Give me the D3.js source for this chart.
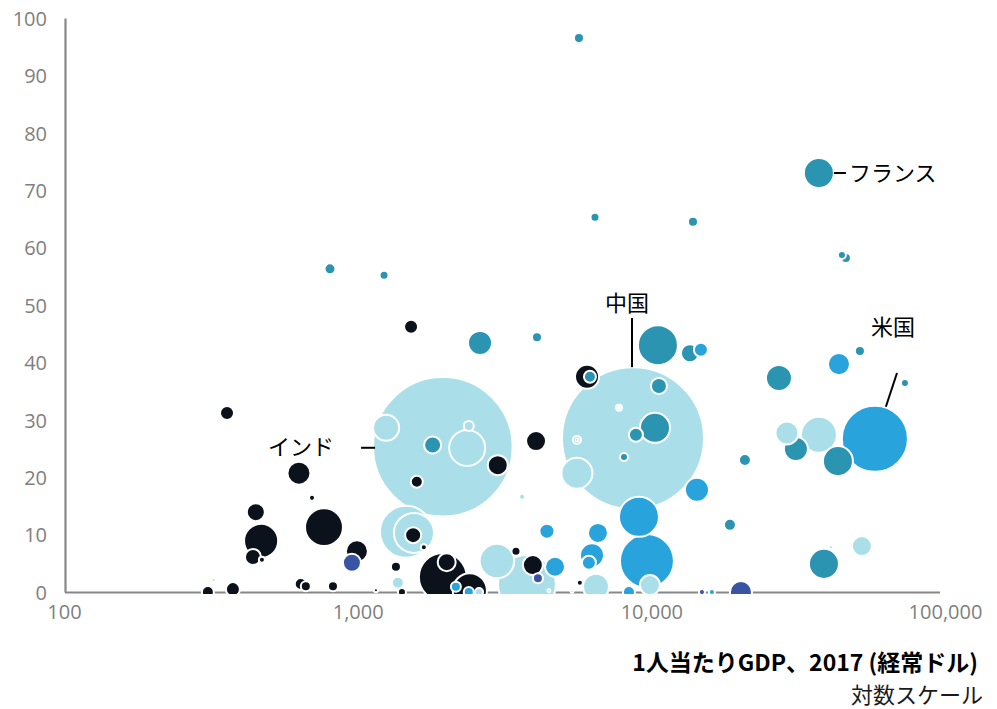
<!DOCTYPE html>
<html>
<head>
<meta charset="utf-8">
<script src="https://cdn.jsdelivr.net/npm/d3@7"></script>
<style>
  html, body { margin: 0; padding: 0; background: #ffffff; }
  svg { display: block; }
  .tick text { font-family: "Open Sans", "Noto Sans", sans-serif; font-size: 20px; fill: #7f7f7f; }
  .lbl { font-family: "Noto Sans CJK JP", sans-serif; font-size: 22px; fill: #000; }
</style>
</head>
<body>
<svg id="chart" width="997" height="709"></svg>
<script>
// GDP per capita (current US$), value on the vertical axis, population (millions), region group
const gdpPerCapita = [
  8660, 1950, 57700, 37200,
  5670, 6430, 13860, 805, 1230, 44560, 45970, 1520, 2610, 4080, 10530, 13530, 14750,
  27200, 43540, 51320, 73040, 28950, 37210, 31070, 43190, 20830, 18520, 38700, 52120, 40880,
  20190, 14870, 16080,
  6040, 6180, 10615, 7760, 7760, 10290, 8860, 5580, 5580, 8070, 5580, 14300, 9075, 9660,
  9890, 8390, 6580, 6280, 6130, 4700, 4410, 6480, 5710,
  1250, 1800, 2360, 2390, 3000, 1590, 4050, 3630, 1460, 1555, 1545, 1680, 1350, 1370, 1415,
  1950, 2010, 2410, 2160, 2390, 2590, 2980, 3460, 3770, 3950, 4110, 4480, 5370,
  359, 631, 699, 768, 450, 469, 440, 472, 994, 956, 309, 376, 324, 640, 666, 824, 1154
];
const shareValue = [
  26.8, 25.3, 26.7, 73.0,
  96.5, 65.3, 64.5, 56.3, 55.2, 58.7, 58.2, 46.2, 43.4, 44.4, 43.0, 41.6, 42.2,
  37.3, 39.7, 42.0, 36.4, 27.7, 27.4, 24.9, 22.8, 23.0, 11.7, 4.9, 8.0, 7.8,
  0, 0, 0,
  37.5, 37.5, 35.9, 32.1, 32.1, 28.6, 27.4, 26.5, 26.5, 23.5, 20.7, 17.8, 13.1, 5.4,
  1.2, 0, 10.3, 6.4, 5.1, 4.4, 10.6, 0.9, 1.6,
  28.6, 25.6, 25.1, 28.9, 22.1, 19.2, 26.3, 16.6, 10.5, 10.3, 9.9, 7.8, 4.4, 1.6, 0,
  2.6, 5.2, 0.3, 0.9, 0, 0, 5.4, 7.1, 1.4, 4.7, 2.4, 0.2, 0.1,
  31.2, 20.7, 16.4, 11.3, 13.9, 8.9, 6.1, 5.6, 7.1, 5.1, 0, 0.5, 2.1, 1.4, 1.0, 1.0, 0.3
];
const population = [
  1386, 1339, 300, 62,
  7, 5.6, 7, 8.3, 5.6, 4.4, 6.9, 13.5, 39.6, 6.9, 110, 22.3, 13.5,
  46.5, 33.3, 6.9, 4.4, 36.4, 89, 39.6, 62, 9.9, 9.9, 62, 27.5, 1.1,
  33.3, 2.5, 2.5,
  39.6, 9.9, 17.6, 2.5, 0.3, 62, 13.5, 4.4, 0.6, 4.4, 66, 39.6, 110, 200,
  27.5, 9.9, 27.5, 39.6, 13.5, 27.5, 15.5, 46.5, 2.5,
  46.5, 19.9, 89, 6.9, 27.5, 9.9, 27.5, 2.5, 186, 110, 17.6, 2.5, 6.9, 9.9, 4.4,
  158, 22.3, 80, 6.9, 6.9, 4.4, 82, 5.6, 231, 27.5, 6.9, 0.6, 0.6,
  13.5, 36.4, 2.5, 99, 22.3, 80, 17.6, 2.5, 33.3, 22.3, 9.9, 13.5, 0.6, 9.9, 6.9, 6.9, 1.1
];
const region = [
  "asia", "asia", "americas", "europe",
  "europe", "europe", "europe", "europe", "europe", "europe", "europe", "africa", "europe", "europe", "europe", "europe", "americas",
  "europe", "americas", "europe", "europe", "asia", "asia", "europe", "europe", "europe", "europe", "europe", "asia", "asia",
  "oceania", "oceania", "americas",
  "africa", "europe", "europe", "asia", "africa", "europe", "europe", "asia", "africa", "europe", "asia", "americas", "americas", "americas",
  "asia", "americas", "americas", "americas", "americas", "americas", "americas", "asia", "africa",
  "asia", "europe", "asia", "asia", "africa", "africa", "africa", "asia", "asia", "asia", "africa", "africa", "africa", "asia", "africa",
  "africa", "africa", "africa", "americas", "americas", "asia", "asia", "africa", "asia", "africa", "oceania", "americas", "americas",
  "africa", "africa", "africa", "africa", "africa", "africa", "africa", "africa", "africa", "oceania", "africa", "africa", "africa", "africa", "africa", "africa", "africa"
];

// Axis ticks and titles
const xTicks = [100, 1000, 10000, 100000];
const yTicks = [0, 10, 20, 30, 40, 50, 60, 70, 80, 90, 100];
const xTitle = "1人当たりGDP、2017 (経常ドル)";
const xSubTitle = "対数スケール";

// Annotated countries: label text and the row it points at
const labelText = ["中国", "インド", "米国", "フランス"];
const labelRow = [0, 1, 2, 3];

const regionColor = {
  africa: "#0b121c",
  asia: "#aadfe9",
  europe: "#2b94b1",
  americas: "#28a3dc",
  oceania: "#3a54a4"
};

const svg = d3.select("#chart");

const x = d3.scaleLog().domain([100, 100000]).range([64, 945]);
const y = d3.scaleLinear().domain([0, 100]).range([592, 18]);
const r = d3.scaleSqrt().domain([0, 1400]).range([0, 71.35]);

// Axes
const yAxis = svg.append("g")
  .attr("transform", "translate(65,0)")
  .call(d3.axisLeft(y).tickValues(yTicks).tickSize(0).tickPadding(18));
yAxis.select(".domain").attr("stroke", "#878787").attr("stroke-width", 2.2);

const xAxis = svg.append("g")
  .attr("transform", "translate(0,592.5)")
  .call(d3.axisBottom(x).tickValues(xTicks).tickFormat(d3.format(",")).tickSize(0).tickPadding(12));
xAxis.select(".domain").attr("stroke", "#878787").attr("stroke-width", 2.2)
  .attr("d", `M${x(100) + 1},0H${x(100000) - 5}`);
yAxis.selectAll(".tick text").attr("dy", "0.36em");

// Bubbles, largest first so smaller ones stay visible on top
const rows = gdpPerCapita.map((g, i) => ({
  gdp: g, v: shareValue[i], pop: population[i], reg: region[i]
}));
rows.sort((a, b) => b.pop - a.pop);

svg.append("clipPath").attr("id", "plotClip")
  .append("rect").attr("x", 66).attr("y", 0).attr("width", 931).attr("height", 594);

svg.append("g").attr("clip-path", "url(#plotClip)")
  .selectAll("circle")
  .data(rows)
  .join("circle")
  .attr("cx", d => x(d.gdp))
  .attr("cy", d => y(d.v))
  .attr("r", d => r(d.pop))
  .attr("fill", d => regionColor[d.reg])
  .attr("stroke", "#ffffff")
  .attr("stroke-width", 2);

// Country annotations with leader lines
const ann = svg.append("g");
const pt = i => ({ cx: x(gdpPerCapita[i]), cy: y(shareValue[i]), rr: r(population[i]) });

// China: label above, vertical leader down to the bubble top
{
  const p = pt(labelRow[0]);
  ann.append("line").attr("x1", p.cx - 1).attr("x2", p.cx - 1)
    .attr("y1", 318).attr("y2", p.cy - p.rr)
    .attr("stroke", "#000").attr("stroke-width", 2);
  ann.append("text").attr("class", "lbl").attr("x", p.cx - 6).attr("y", 311)
    .attr("text-anchor", "middle").text(labelText[0]);
}
// India: label to the left, short horizontal leader
{
  const p = pt(labelRow[1]);
  const lx = p.cx - p.rr;
  ann.append("line").attr("x1", lx - 12).attr("x2", lx + 2)
    .attr("y1", p.cy + 1).attr("y2", p.cy + 1)
    .attr("stroke", "#000").attr("stroke-width", 2);
  ann.append("text").attr("class", "lbl").attr("x", 268).attr("y", 455).text(labelText[1]);
}
// United States: label above right, slanted leader
{
  const p = pt(labelRow[2]);
  ann.append("line").attr("x1", 897).attr("y1", 373)
    .attr("x2", p.cx + 11).attr("y2", p.cy - p.rr + 1)
    .attr("stroke", "#000").attr("stroke-width", 2);
  ann.append("text").attr("class", "lbl").attr("x", 871).attr("y", 335).text(labelText[2]);
}
// France: label to the right, short horizontal leader
{
  const p = pt(labelRow[3]);
  const rx = p.cx + p.rr;
  ann.append("line").attr("x1", rx).attr("x2", rx + 12)
    .attr("y1", p.cy).attr("y2", p.cy)
    .attr("stroke", "#000").attr("stroke-width", 2);
  ann.append("text").attr("class", "lbl").attr("x", rx + 15).attr("y", p.cy + 8).text(labelText[3]);
}

// Axis title, right aligned under the axis
svg.append("text").attr("x", 978).attr("y", 671)
  .attr("text-anchor", "end")
  .style("font-family", "'Noto Sans CJK JP', sans-serif")
  .style("font-size", "23px").style("font-weight", "bold").style("fill", "#000")
  .text(xTitle);
svg.append("text").attr("x", 983).attr("y", 703)
  .attr("text-anchor", "end")
  .style("font-family", "'Noto Sans CJK JP', sans-serif")
  .style("font-size", "22px").style("fill", "#1a1a1a")
  .text(xSubTitle);
</script>
</body>
</html>
